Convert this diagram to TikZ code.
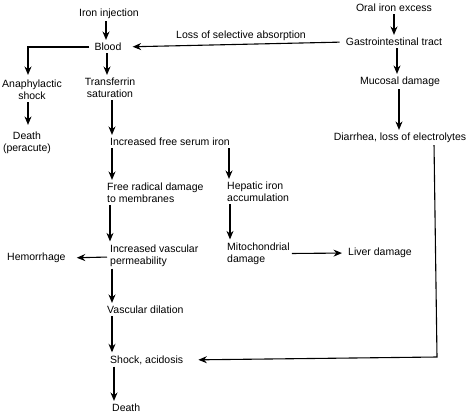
\documentclass[tikz,border=0pt]{standalone}
\usepackage{fontspec}
\setmainfont{Liberation Sans}
\usetikzlibrary{arrows.meta,calc}
\begin{document}
\begin{tikzpicture}[x=1pt,y=-1pt,
  lbl/.style={inner sep=0pt, font=\fontsize{10.5}{12}\selectfont},
  arr/.style={draw, line width=1.1pt, -{Stealth[length=8.5pt,width=7pt]}, shorten <=2pt, shorten >=3pt}]
\useasboundingbox (0,0) rectangle (474,416);
\node[lbl] (inj) at (109,14) {Iron injection};
\node[lbl] (blood) at (108,47) {Blood};
\node[lbl] (loss) at (241,36) {Loss of selective absorption};
\node[lbl] (oral) at (394,8) {Oral iron excess};
\node[lbl] (gi) at (394,42) {Gastrointestinal tract};
\node[lbl] (muc) at (400,82) {Mucosal damage};
\node[lbl] (dia) at (400,138) {Diarrhea, loss of electrolytes};
\node[lbl,align=center] (ana) at (32,90) {Anaphylactic\\shock};
\node[lbl,align=center] (dth1) at (27,143) {Death\\(peracute)};
\node[lbl,align=center] (trans) at (110,88) {Transferrin\\saturation};
\node[lbl,anchor=west] (frs) at (110,142) {Increased free serum iron};
\node[lbl,anchor=west,align=left] (frd) at (107,193) {Free radical damage\\to membranes};
\node[lbl,anchor=west,align=left] (hep) at (227,192) {Hepatic iron\\accumulation};
\node[lbl,anchor=west,align=left] (mito) at (227,253.5) {Mitochondrial\\damage};
\node[lbl,anchor=west] (liver) at (348,253) {Liver damage};
\node[lbl,anchor=west,align=left] (ivp) at (110,255.5) {Increased vascular\\permeability};
\node[lbl,anchor=west] (hem) at (7,258) {Hemorrhage};
\node[lbl,anchor=west] (vd) at (107,310) {Vascular dilation};
\node[lbl,anchor=west] (shock) at (110,360) {Shock, acidosis};
\node[lbl,anchor=west] (death) at (112,408) {Death};
\coordinate (turn) at (437,357);
% left branch
\draw[arr] ([xshift=-3pt]inj.south) -- ([xshift=-3pt]inj.south |- blood.north);
\draw[arr] ([xshift=-3pt]blood.west) -| ([xshift=-4pt,yshift=2pt]ana.north);
\draw[arr] ([xshift=-4pt]ana.south) -- ([xshift=-4pt,yshift=4pt]ana.south |- dth1.north);
\draw[arr] ([xshift=-1pt]blood.south) -- ([xshift=-1pt]blood.south |- trans.north);
\draw[arr] ([xshift=2pt]trans.south) -- ([xshift=2pt]trans.south |- frs.north);
\draw[arr] ([xshift=2pt]frs.south west) -- ([xshift=2pt]frs.south west |- frd.north);
\draw[arr] ([xshift=2pt]frs.south -| hep.west) -- ([xshift=2pt]hep.north west);
\draw[arr] ([xshift=3pt]frd.south west) -- ([xshift=3pt]frd.south west |- ivp.north);
\draw[arr] ([xshift=3pt]hep.south west) -- ([xshift=3pt]hep.south west |- mito.north);
\draw[arr, shorten >=6pt] (mito.east) -- (liver.west);
\draw[arr, shorten >=11pt] ([xshift=-1pt,yshift=-1.5pt]ivp.west) -- (hem.east);
\draw[arr] ([xshift=2pt]ivp.south west) -- ([xshift=2pt]ivp.south west |- vd.north);
\draw[arr] ([xshift=5pt]vd.south west) -- ([xshift=5pt]vd.south west |- shock.north);
\draw[arr] ([xshift=4pt]shock.south west) -- ([xshift=4pt]shock.south west |- death.north);
% right branch
\draw[arr] (oral.south) -- (oral.south |- gi.north);
\draw[arr] ([xshift=3pt]gi.south) -- ([xshift=3pt]gi.south |- muc.north);
\draw[arr] ([xshift=-1pt]muc.south) -- ([xshift=-1pt]muc.south |- dia.north);
\draw[arr, shorten <=6pt, shorten >=11pt] (gi.west) -- (blood.east);
\draw[arr, shorten >=15pt] ([xshift=34pt]dia.south) -- (turn) -- (shock.east);
\end{tikzpicture}
\end{document}
